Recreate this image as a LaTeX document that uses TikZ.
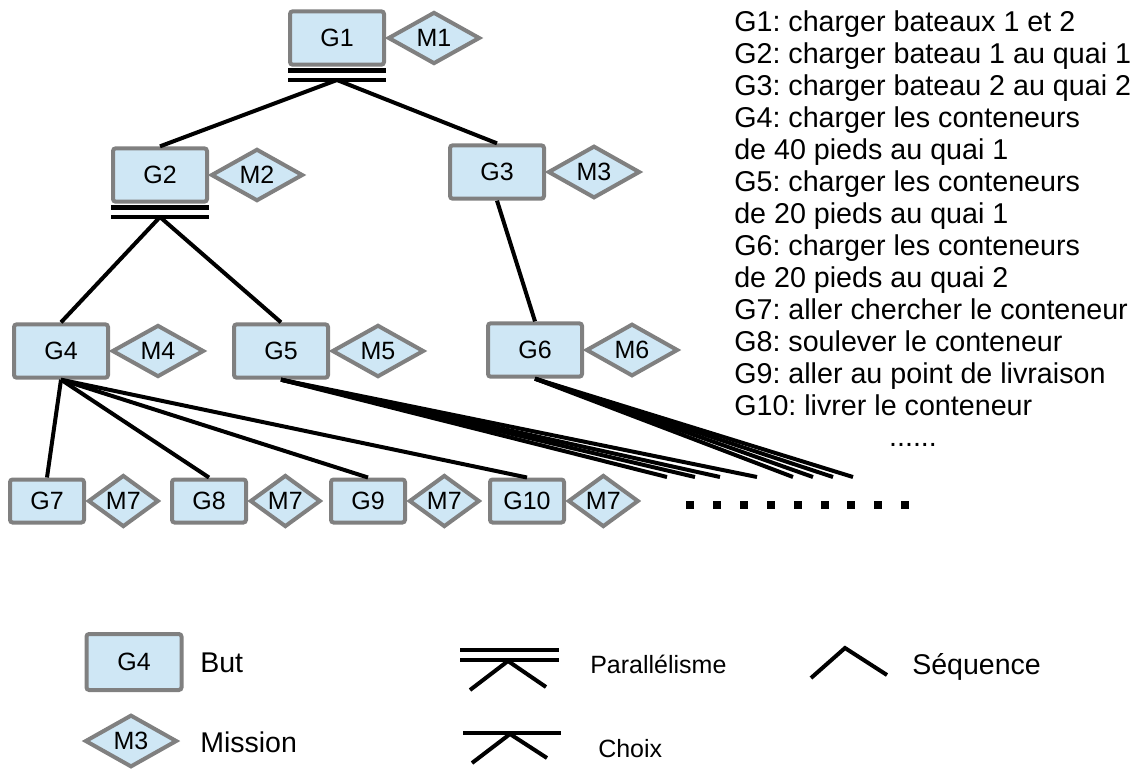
\documentclass[tikz,border=0pt]{standalone}
\usepackage{fontspec}
\setmainfont{Liberation Sans}
\usetikzlibrary{shapes, arrows, positioning}
\frenchspacing
\definecolor{goalfill}{RGB}{207,231,245}
\definecolor{goalline}{RGB}{128,128,128}
\tikzstyle{goal} = [rectangle, rounded corners=2pt, minimum width=70.5pt, minimum height=40pt, inner sep=0pt, text centered, draw=goalline, fill=goalfill, line width=3pt, font=\fontsize{18.75}{20}\selectfont]
\tikzstyle{mission} = [diamond, minimum width=69pt, minimum height=39pt, inner sep=0pt, text centered, draw=goalline, fill=goalfill, line width=3pt, font=\fontsize{18.75}{20}\selectfont]
\tikzstyle{subgoal} = [goal, minimum width=55.5pt, minimum height=32.25pt]
\tikzstyle{submission} = [mission, minimum width=53pt, minimum height=33pt]
\tikzstyle{link} = [line width=3pt]
\tikzstyle{bar} = [line width=3.3pt]
\tikzstyle{legendtext} = [inner sep=0pt, anchor=base west, font=\fontsize{21.4}{24}\selectfont]

\begin{document}
\begin{tikzpicture}[x=0.75pt, y=-0.75pt]
\useasboundingbox (0,0) rectangle (1142,769);

% Goals
\node (G1) [goal] at (337,38) {G1};
\node (G2) [goal] at (160,175) {G2};
\node (G3) [goal] at (497,172) {G3};
\node (G4) [goal] at (61,351) {G4};
\node (G5) [goal] at (281,351) {G5};
\node (G6) [goal] at (535,350) {G6};
\node (G7) [subgoal] at (47,501) {G7};
\node (G8) [subgoal] at (209,501) {G8};
\node (G9) [subgoal] at (368,501) {G9};
\node (G10) [subgoal] at (527,501) {G10};

% Missions
\node (M1) [mission, right=0pt of G1] {M1};
\node (M2) [mission, right=0pt of G2] {M2};
\node (M3) [mission, right=0pt of G3] {M3};
\node (M4) [mission, right=0pt of G4] {M4};
\node (M5) [mission, right=0pt of G5] {M5};
\node (M6) [mission, right=0pt of G6] {M6};
\foreach \g in {G7, G8, G9, G10}
  \node (M7of\g) [submission, right=0pt of \g] {M7};

% Parallel bars
\foreach \g in {G1, G2} {
  \draw [bar] ([yshift=-2.8pt]\g.south west) -- ([yshift=-2.8pt]\g.south east);
  \draw [bar] ([yshift=-10pt]\g.south west) -- ([yshift=-10pt]\g.south east);
  \coordinate (\g and) at ([yshift=-10pt]\g.south);
}

% Links
\draw [link] (G1and) -- (G2.north);
\draw [link] (G1and) -- (G3.north);
\draw [link] (G2and) -- (G4.north);
\draw [link] (G2and) -- (G5.north);
\draw [link] (G3.south) -- (G6.north);
\foreach \g in {G7, G8, G9, G10}
  \draw [link] (G4.south) -- (\g.north);

% Open links
\foreach \x [count=\i] in {667,695,720,757} {
  \coordinate (G5to\i) at (\x,477);
  \draw [link] (G5.south) -- (G5to\i);
}
\foreach \x [count=\i] in {793,813,833,853} {
  \coordinate (G6to\i) at (\x,477);
  \draw [link] (G6.south) -- (G6to\i);
}
\foreach \i in {0,...,8}
  \fill ({686+26.9*\i},501) rectangle +(8,8);

% Goal list
\node (goallist) [anchor=north west, inner sep=0pt, align=left, font=\fontsize{21.5}{24}\selectfont] at (734,10) {G1: charger bateaux 1 et 2\\
G2: charger bateau 1 au quai 1\\
G3: charger bateau 2 au quai 2\\
G4: charger les conteneurs\\
de 40 pieds au quai 1\\
G5: charger les conteneurs\\
de 20 pieds au quai 1\\
G6: charger les conteneurs\\
de 20 pieds au quai 2\\
G7: aller chercher le conteneur\\
G8: soulever le conteneur\\
G9: aller au point de livraison\\
G10: livrer le conteneur};
\node (more) [anchor=base, inner sep=0pt, font=\fontsize{21.5}{24}\selectfont] at (913,446) {......};

% Legend
\node (legendgoal) [goal, minimum width=71.25pt, minimum height=42pt] at (134,662) {G4};
\node (but) [legendtext] at (200,672) {But};
\node (legendmission) [mission, minimum width=69pt, minimum height=37pt] at (131,741) {M3};
\node (mission) [legendtext] at (200,752) {Mission};
\draw [bar] (460,650) -- (559,650);
\draw [bar] (460,660) -- (559,660);
\draw [link] (470,690) -- (508,661) -- (546,687);
\node (parallel) [legendtext, font=\fontsize{18.75}{20}\selectfont] at (590,673) {Parallélisme};
\draw [bar] (463,733) -- (561,733);
\draw [link] (472,763) -- (510,734) -- (547,758);
\node (choix) [legendtext, font=\fontsize{18.75}{20}\selectfont] at (598,757) {Choix};
\draw [link] (811,678) -- (845,648) -- (887,675);
\node (sequence) [legendtext] at (912,674) {Séquence};

\end{tikzpicture}
\end{document}
